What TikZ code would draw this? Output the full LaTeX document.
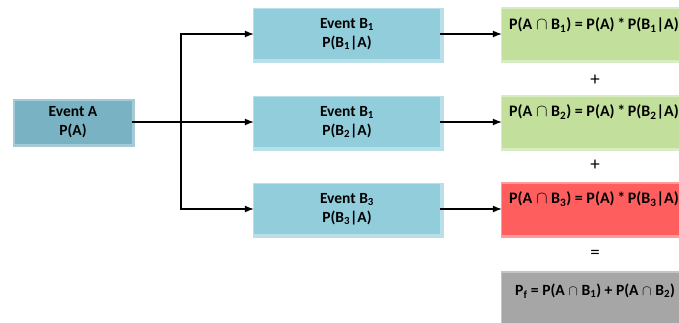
\documentclass[tikz,border=0pt]{standalone}
\usepackage{fontspec}
\setmainfont{Carlito}
\usetikzlibrary{arrows.meta}

\definecolor{evAfill}{HTML}{79B2C3}
\definecolor{evArim}{HTML}{A3CAD6}
\definecolor{evBfill}{HTML}{92CDDC}
\definecolor{evBrim}{HTML}{B9DFE9}
\definecolor{grfill}{HTML}{C2E09C}
\definecolor{grrim}{HTML}{D9EDC2}
\definecolor{rdfill}{HTML}{FF5E5E}
\definecolor{rdrim}{HTML}{FF9A9A}
\definecolor{gyfill}{HTML}{A6A6A6}
\definecolor{gyrim}{HTML}{C4C4C4}

\newcommand{\capsym}{\ensuremath{\cap}}
\newcommand{\timessym}{\,*\,}

\tikzset{
  box/.style={rectangle, inner sep=0pt, align=center,
    font=\fontsize{15.5}{19}\selectfont\bfseries},
  rimmed/.style={preaction={draw=#1, line width=5pt,
    transform canvas={shift={(1pt,-1pt)}}}},
  eventA/.style={box, fill=evAfill, rimmed=evArim,
    minimum width=117pt, minimum height=43pt},
  eventB/.style={box, fill=evBfill, rimmed=evBrim,
    minimum width=186pt, minimum height=50pt},
  result/.style={box, fill=#1fill, rimmed=#1rim,
    minimum width=200pt, minimum height=51pt},
  formula/.style={inner sep=0pt, anchor=west,
    font=\fontsize{16}{18}\selectfont\bfseries},
  sumformula/.style={formula, font=\fontsize{15.6}{18}\selectfont\bfseries},
  opsym/.style={inner sep=0pt, font=\fontsize{19}{19}\selectfont},
  arr/.style={line width=1.2pt, -{Latex[length=9pt,width=7pt]}}
}

\begin{document}
\begin{tikzpicture}[x=1pt,y=-1pt]
\useasboundingbox (0,0) rectangle (679,322);
\clip (0,0) rectangle (679,322);

% source event
\node[eventA] (A) at (73,122) {Event A\\P(A)};

% conditional events
\node[eventB] (B1) at (347,34)  {Event B\textsubscript{1}\\P(B\textsubscript{1}|A)};
\node[eventB] (B2) at (347,122) {Event B\textsubscript{1}\\P(B\textsubscript{2}|A)};
\node[eventB] (B3) at (347,209) {Event B\textsubscript{3}\\P(B\textsubscript{3}|A)};

% joint probabilities
\node[result=gr] (G1) at (602,34)  {};
\node[result=gr] (G2) at (602,122) {};
\node[result=rd] (G3) at (602,209) {};
\node[result=gy] (G4) at (602,298) {};

\node[formula] (t1) at (509,25)
  {P(A \capsym{} B\textsubscript{1}) = P(A)\timessym P(B\textsubscript{1}|A)};
\node[formula] (t2) at (509,112)
  {P(A \capsym{} B\textsubscript{2}) = P(A)\timessym P(B\textsubscript{2}|A)};
\node[formula] (t3) at (509,199)
  {P(A \capsym{} B\textsubscript{3}) = P(A)\timessym P(B\textsubscript{3}|A)};
\node[sumformula] (t4) at (515,291)
  {P\textsubscript{f} = P(A \capsym{} B\textsubscript{1}) + P(A \capsym{} B\textsubscript{2})};

% operators between the results
\node[opsym] (p1) at (595,80)  {+};
\node[opsym] (p2) at (595,165) {+};
\node[opsym] (eq) at (595,254) {=};

% branching connectors
\coordinate (fork) at (181,122);
\draw[arr] (A.east) -- (B2.west);
\draw[arr] (fork) |- (B1.west);
\draw[arr] (fork) |- (B3.west);

\draw[arr] (B1.east) -- (G1.west);
\draw[arr] (B2.east) -- (G2.west);
\draw[arr] (B3.east) -- (G3.west);
\end{tikzpicture}
\end{document}
